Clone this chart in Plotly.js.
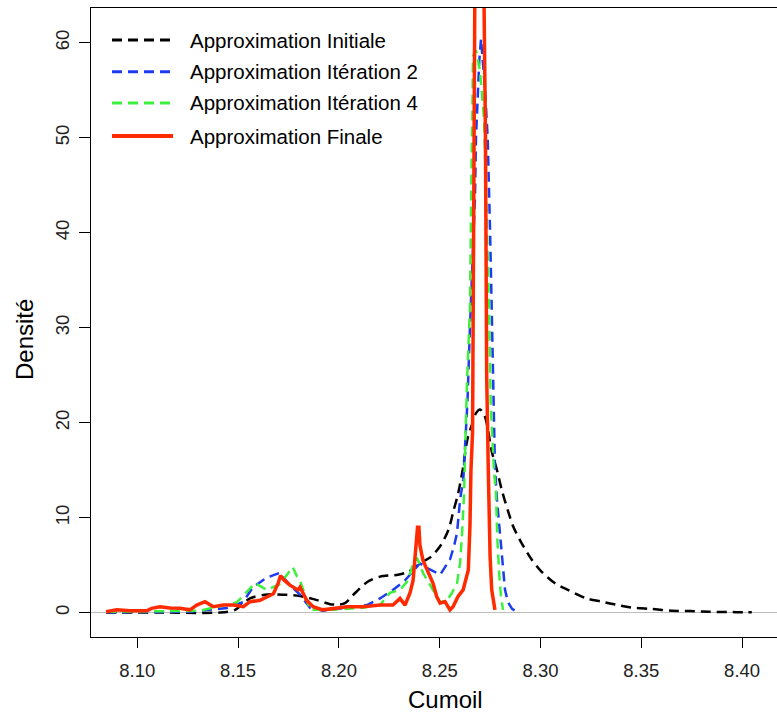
<!DOCTYPE html>
<html>
<head>
<meta charset="utf-8">
<script src="https://cdn.plot.ly/plotly-3.0.1.min.js"></script>
<style>html,body{margin:0;padding:0;background:#fff;}#chart{width:777px;height:713px;}</style>
</head>
<body>
<div id="chart"></div>
<script>
// Series names
const seriesNames = ["Approximation Initiale", "Approximation Itération 2", "Approximation Itération 4", "Approximation Finale"];

// Approximation Initiale (black, dashed)
const initX = [8.0845, 8.1100, 8.1410, 8.1485, 8.1559, 8.1633, 8.1723, 8.1807, 8.1896, 8.1956, 8.1996, 8.2030, 8.2070, 8.2139, 8.2204, 8.2293, 8.2343, 8.2417, 8.2452, 8.2502, 8.2543, 8.2568, 8.2592, 8.2617, 8.2626, 8.2640, 8.2660, 8.2680, 8.2700, 8.2725, 8.2758, 8.2783, 8.2808, 8.2839, 8.2864, 8.2907, 8.2956, 8.3006, 8.3072, 8.3136, 8.3229, 8.3304, 8.3384, 8.3469, 8.3552, 8.3651, 8.3742, 8.3841, 8.3924, 8.4023, 8.4048];
const initY = [0.02, 0.02, 0.02, 0.3, 1.5, 1.9, 1.9, 1.75, 1.3, 0.9, 0.85, 1.0, 1.85, 3.2, 3.8, 4.0, 4.3, 5.4, 5.8, 7.0, 8.7, 10.7, 12.6, 15.4, 16.8, 18.5, 19.8, 21.0, 21.4, 20.6, 17.0, 15.1, 12.9, 10.7, 9.1, 7.3, 5.6, 4.3, 3.1, 2.4, 1.5, 1.16, 0.8, 0.5, 0.4, 0.2, 0.18, 0.1, 0.07, 0.05, 0.05];

// Approximation Itération 2 (blue, dashed)
const it2X = [8.0845, 8.1261, 8.1445, 8.1524, 8.1574, 8.1643, 8.1707, 8.1757, 8.1807, 8.1857, 8.1921, 8.2040, 8.2139, 8.2204, 8.2268, 8.2328, 8.2402, 8.2437, 8.2502, 8.2551, 8.2571, 8.2586, 8.2601, 8.2617, 8.2628, 8.2638, 8.2650, 8.2660, 8.2675, 8.2680, 8.2684, 8.2687, 8.2692, 8.2696, 8.2705, 8.2715, 8.2725, 8.2738, 8.2741, 8.2750, 8.2758, 8.2764, 8.2771, 8.2774, 8.2784, 8.2799, 8.2809, 8.2824, 8.2839, 8.2859, 8.2883];
const it2Y = [0.05, 0.1, 0.5, 1.1, 2.7, 3.7, 4.2, 2.9, 1.9, 0.5, 0.2, 0.5, 0.8, 1.5, 2.4, 3.4, 5.2, 4.7, 4.0, 5.6, 7.0, 8.4, 11.9, 14.0, 18.2, 22.4, 30.0, 36.0, 43.7, 50.0, 52.0, 54.0, 56.0, 58.0, 60.4, 58.0, 55.0, 50.0, 48.0, 40.0, 32.0, 24.0, 17.5, 15.4, 11.9, 8.4, 5.6, 2.4, 1.1, 0.4, 0.1];

// Approximation Itération 4 (green, dashed)
const it4X = [8.0845, 8.1311, 8.1494, 8.1584, 8.1643, 8.1707, 8.1771, 8.1792, 8.1807, 8.1832, 8.1857, 8.1956, 8.2105, 8.2204, 8.2253, 8.2303, 8.2343, 8.2368, 8.2387, 8.2417, 8.2462, 8.2502, 8.2536, 8.2561, 8.2586, 8.2601, 8.2611, 8.2621, 8.2626, 8.2635, 8.2650, 8.2653, 8.2659, 8.2662, 8.2665, 8.2680, 8.2700, 8.2720, 8.2730, 8.2740, 8.2745, 8.2753, 8.2763, 8.2769, 8.2779, 8.2786, 8.2796, 8.2804, 8.2814];
const it4Y = [0.1, 0.2, 1.1, 3.1, 2.4, 3.0, 4.8, 3.8, 3.4, 1.9, 0.3, 0.3, 0.5, 0.8, 2.1, 2.4, 3.4, 5.2, 5.8, 4.2, 2.6, 1.1, 1.3, 2.1, 3.1, 5.2, 8.4, 12.5, 17.0, 24.0, 32.0, 40.0, 48.8, 52.0, 58.6, 59.2, 57.0, 52.0, 45.0, 37.0, 32.0, 22.0, 17.5, 15.0, 12.6, 7.7, 3.8, 1.7, 0.3];

// Approximation Finale (red, solid)
const finX = [8.0845, 8.0898, 8.0964, 8.1047, 8.1071, 8.1113, 8.1162, 8.1212, 8.1261, 8.1295, 8.1336, 8.1377, 8.1427, 8.1476, 8.1526, 8.1559, 8.1609, 8.1642, 8.1675, 8.1699, 8.1710, 8.1730, 8.1757, 8.1797, 8.1807, 8.1840, 8.1872, 8.1921, 8.1991, 8.2040, 8.2120, 8.2204, 8.2268, 8.2303, 8.2328, 8.2353, 8.2368, 8.2382, 8.2390, 8.2397, 8.2402, 8.2417, 8.2442, 8.2467, 8.2485, 8.2502, 8.2526, 8.2551, 8.2566, 8.2591, 8.2616, 8.2642, 8.2650, 8.2655, 8.2663, 8.2665, 8.2669, 8.2674, 8.2697, 8.2720, 8.2727, 8.2730, 8.2733, 8.2741, 8.2745, 8.2750, 8.2758, 8.2774];
const finY = [0.1, 0.3, 0.2, 0.2, 0.46, 0.63, 0.5, 0.46, 0.3, 0.8, 1.16, 0.63, 0.8, 0.8, 0.63, 1.16, 1.3, 1.7, 2.0, 3.1, 3.9, 3.4, 2.9, 2.4, 2.7, 1.3, 0.63, 0.3, 0.5, 0.63, 0.63, 0.8, 0.8, 1.5, 0.8, 2.1, 3.4, 7.1, 9.0, 9.0, 7.1, 5.5, 4.2, 3.1, 1.7, 1.0, 1.16, 0.3, 0.63, 1.7, 2.4, 4.5, 9.1, 15.0, 19.0, 30.0, 45.0, 64.0, 80.0, 64.0, 50.0, 35.0, 25.0, 15.0, 10.0, 5.9, 2.4, 0.3];

// Axis ticks
const xTicks = [8.10, 8.15, 8.20, 8.25, 8.30, 8.35, 8.40];
const yTicks = [0, 10, 20, 30, 40, 50, 60];

const colors = ["#000000", "#1c3cf0", "#3cf03c", "#ff2a00"];
const dashes = ["10px,6px", "10px,6px", "10px,6px", "solid"];
const widths = [2.5, 2.5, 2.5, 3.5];
const xs = [initX, it2X, it4X, finX];
const ys = [initY, it2Y, it4Y, finY];

const traces = xs.map((x, i) => ({
  x: x, y: ys[i], type: "scatter", mode: "lines", name: seriesNames[i],
  line: {color: colors[i], width: widths[i], dash: dashes[i], shape: i === 0 ? "spline" : "linear", smoothing: 0.8},
  showlegend: false, hoverinfo: "skip"
}));

const FONT = "Liberation Sans, Arial, sans-serif";
const W = 777, H = 713, ML = 91, MR = 0, MT = 8, MB = 76;
const PW = W - ML - MR, PH = H - MT - MB;
const px = v => (v - ML) / PW;
const py = v => (H - MB - v) / PH;

const shapes = [];
const annotations = [];
const legendRows = [40, 71.7, 103, 136];
legendRows.forEach((r, i) => {
  shapes.push({type: "line", xref: "paper", yref: "paper", x0: px(112), x1: px(173), y0: py(r), y1: py(r),
    line: {color: colors[i], width: i === 3 ? 4 : 3, dash: i === 3 ? "solid" : "10px,6px"}});
  annotations.push({xref: "paper", yref: "paper", x: px(188), y: py(r), xanchor: "left", yanchor: "middle",
    text: seriesNames[i], showarrow: false, font: {family: FONT, size: 20.5, color: "#000"}});
});
annotations.push({xref: "paper", yref: "paper", x: px(445), y: py(699), xanchor: "center", yanchor: "middle",
  text: "Cumoil", showarrow: false, font: {family: FONT, size: 24, color: "#000"}});
annotations.push({xref: "paper", yref: "paper", x: px(24), y: py(340), xanchor: "center", yanchor: "middle",
  text: "Densité", textangle: -90, showarrow: false, font: {family: FONT, size: 24, color: "#000"}});

const layout = {
  width: W, height: H,
  margin: {l: ML, r: MR, t: MT, b: MB, pad: 0},
  paper_bgcolor: "#fff", plot_bgcolor: "#fff",
  showlegend: false,
  xaxis: {
    range: [8.07703, 8.41731], tickvals: xTicks, ticktext: xTicks.map(v => v.toFixed(2)),
    showgrid: false, zeroline: false, showline: true, linecolor: "#000", linewidth: 1, mirror: true,
    ticks: "outside", ticklen: 10, tickcolor: "#000", tickwidth: 1, ticklabelstandoff: 7,
    tickfont: {family: FONT, size: 18.5, color: "#222"}, fixedrange: true
  },
  yaxis: {
    range: [-2.558, 63.65], tickvals: yTicks, ticktext: yTicks.map(String), tickangle: -90,
    showgrid: false, zeroline: true, zerolinecolor: "#bebebe", zerolinewidth: 1,
    showline: true, linecolor: "#000", linewidth: 1,
    ticks: "outside", ticklen: 11, tickcolor: "#000", tickwidth: 1, ticklabelstandoff: 3,
    tickfont: {family: FONT, size: 18.5, color: "#222"}, fixedrange: true
  },
  shapes: shapes,
  annotations: annotations
};

Plotly.newPlot("chart", traces, layout, {displayModeBar: false, staticPlot: true});
</script>
</body>
</html>
